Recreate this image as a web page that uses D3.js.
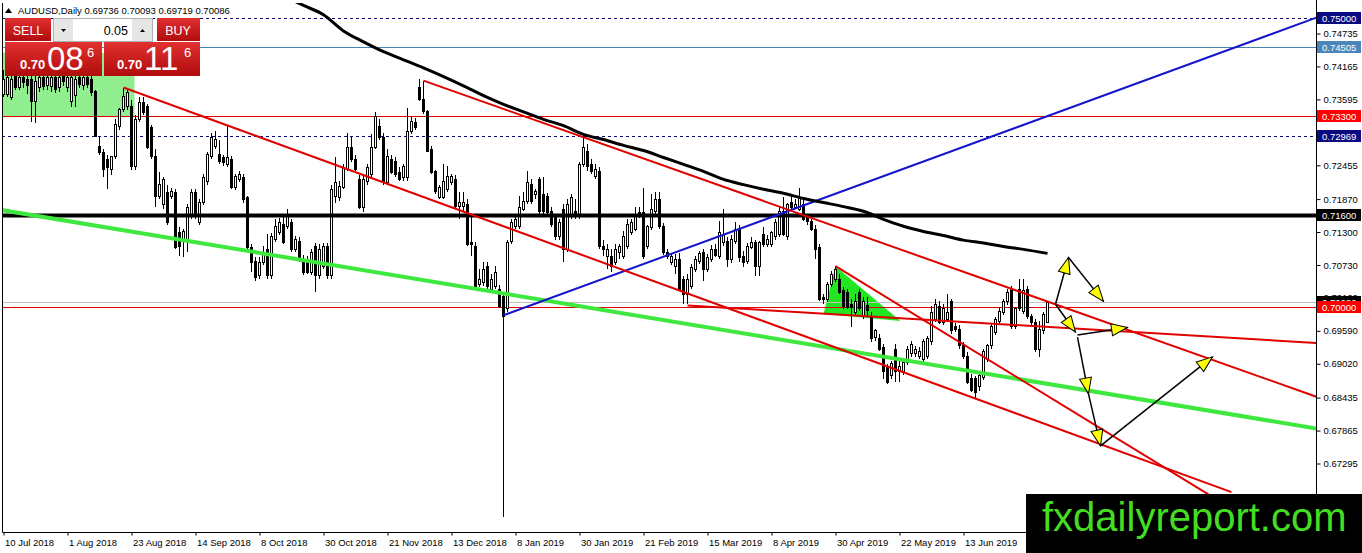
<!DOCTYPE html>
<html>
<head>
<meta charset="utf-8">
<script src="https://cdn.jsdelivr.net/npm/d3@7"></script>
<style>
  body { margin: 0; background: #fff; }
  svg { display: block; font-family: "Liberation Sans", Arial, sans-serif; }
</style>
</head>
<body>
<div id="chart"></div>
<script>
// AUDUSD daily, candle values (bar 0 = 10 Jul 2018)
var opens = [
  .7368,.7368,.7363,.7401,.7380,.7397,.7394,.7394,.7356,.7380,
  .7397,.7383,.7382,.7397,.7380,.7401,.7380,.7356,.7366,.7397,
  .7383,.7397,.7394,.7373,.7278,.7268,.7256,.7238,.7261,.7313,
  .7342,.7347,.7347,.7244,.7325,.7354,.7347,.7311,.7261,.7192,
  .7178,.7199,.7192,.7199,.7130,.7117,.7117,.7157,.7199,.7147,
  .7181,.7218,.7261,.7278,.7264,.7259,.7247,.7256,.7207,.7221,
  .7225,.7190,.7104,.7079,.7054,.7078,.7100,.7054,.7117,.7130,
  .7143,.7140,.7147,.7100,.7114,.7083,.7083,.7060,.7105,.7054,
  .7071,.7105,.7054,.7192,.7190,.7207,.7238,.7276,.7256,.7221,
  .7173,.7218,.7230,.7276,.7313,.7294,.7216,.7256,.7252,.7233,
  .7225,.7225,.7304,.7319,.7380,.7359,.7338,.7273,.7235,.7190,
  .7190,.7204,.7216,.7221,.7174,.7174,.7178,.7112,.7105,.7040,
  .7043,.7071,.7031,.7036,.7031,.7019,.6997,.7114,.7140,.7140,
  .7169,.7183,.7212,.7195,.7221,.7195,.7192,.7166,.7157,.7123,
  .7169,.7100,.7157,.7166,.7157,.7247,.7269,.7247,.7226,.7235,
  .7105,.7088,.7088,.7078,.7095,.7088,.7105,.7130,.7135,.7164,
  .7164,.7105,.7138,.7166,.7187,.7140,.7095,.7078,.7071,.7083,
  .7048,.7022,.7036,.7066,.7079,.7095,.7066,.7083,.7100,.7088,
  .7112,.7114,.7083,.7114,.7135,.7088,.7079,.7104,.7112,.7071,
  .7126,.7109,.7109,.7123,.7126,.7166,.7123,.7181,.7173,.7169,
  .7178,.7155,.7149,.7135,.7104,.7017,.7014,.7040,.7048,.7048,
  .7028,.7026,.7005,.6991,.7026,.6984,.7003,.6984,.6948,.6945,
  .6931,.6896,.6881,.6927,.6888,.6888,.6905,.6919,.6919,.6915,
  .6910,.6915,.6940,.6979,.7002,.6974,.6979,.7009,.6967,.6962,
  .6933,.6915,.6876,.6876,.6862,.6879,.6910,.6933,.6957,.6976,
  .6991,.7009,.7031,.6967,.7031,.6993,.7031,.6983,.6974,.6927,
  .6959,.69736
];
var highs = [
  .7411,.7408,.7404,.7411,.7408,.7411,.7408,.7404,.7401,.7408,
  .7411,.7408,.7411,.7408,.7404,.7411,.7408,.7404,.7401,.7408,
  .7404,.7408,.7404,.7376,.7294,.7273,.7263,.7256,.7325,.7345,
  .7380,.7376,.7359,.7333,.7363,.7363,.7352,.7316,.7273,.7233,
  .7225,.7212,.7207,.7204,.7138,.7135,.7178,.7204,.7204,.7187,
  .7230,.7269,.7302,.7304,.7290,.7264,.7313,.7261,.7231,.7235,
  .7230,.7193,.7109,.7086,.7086,.7105,.7126,.7128,.7152,.7155,
  .7157,.7169,.7152,.7123,.7121,.7090,.7088,.7100,.7111,.7109,
  .7111,.7111,.7211,.7259,.7218,.7247,.7302,.7295,.7264,.7228,
  .7228,.7247,.7299,.7337,.7325,.7302,.7273,.7264,.7259,.7242,
  .7247,.7345,.7330,.7328,.7394,.7392,.7342,.7278,.7238,.7211,
  .7247,.7244,.7230,.7228,.7199,.7200,.7187,.7157,.7112,.7066,
  .7079,.7078,.7057,.7071,.7038,.7024,.7117,.7152,.7159,.7192,
  .7199,.7235,.7221,.7204,.7225,.7225,.7197,.7173,.7162,.7152,
  .7178,.7187,.7195,.7187,.7252,.7299,.7282,.7256,.7247,.7242,
  .7117,.7109,.7100,.7109,.7109,.7131,.7152,.7152,.7174,.7174,
  .7207,.7143,.7195,.7199,.7199,.7145,.7100,.7092,.7092,.7093,
  .7054,.7057,.7074,.7088,.7097,.7100,.7092,.7107,.7109,.7149,
  .7169,.7121,.7124,.7147,.7142,.7097,.7111,.7121,.7117,.7114,
  .7138,.7124,.7131,.7152,.7173,.7190,.7181,.7195,.7187,.7207,
  .7187,.7161,.7155,.7142,.7109,.7022,.7043,.7062,.7071,.7057,
  .7035,.7031,.7014,.7022,.7031,.7017,.7017,.6991,.6962,.6953,
  .6936,.6902,.6907,.6936,.6907,.6910,.6933,.6941,.6933,.6931,
  .6945,.6950,.7002,.7014,.7010,.7005,.7022,.7014,.6972,.6969,
  .6940,.6922,.6884,.6881,.6884,.6927,.6936,.6971,.6983,.6998,
  .7014,.7031,.7036,.7000,.7048,.7048,.7036,.6988,.6979,.6976,
  .6991,.70093
];
var lows = [
  .7363,.7363,.7359,.7376,.7376,.7380,.7368,.7321,.7319,.7373,
  .7376,.7376,.7373,.7370,.7373,.7383,.7373,.7347,.7347,.7380,
  .7376,.7380,.7366,.7294,.7264,.7225,.7204,.7228,.7256,.7307,
  .7337,.7342,.7238,.7238,.7321,.7332,.7273,.7256,.7174,.7187,
  .7169,.7143,.7187,.7100,.7088,.7086,.7095,.7152,.7152,.7143,
  .7176,.7212,.7256,.7273,.7247,.7245,.7242,.7204,.7202,.7216,
  .7181,.7100,.7060,.7045,.7048,.7073,.7048,.7048,.7112,.7124,
  .7109,.7135,.7095,.7095,.7079,.7055,.7057,.7055,.7026,.7048,
  .7066,.7048,.7048,.7181,.7183,.7204,.7235,.7252,.7235,.7169,
  .7164,.7212,.7225,.7273,.7290,.7212,.7211,.7230,.7225,.7218,
  .7219,.7219,.7299,.7307,.7356,.7335,.7268,.7230,.7195,.7187,
  .7187,.7199,.7211,.7169,.7152,.7166,.7105,.7088,.7031,.7035,
  .7036,.7031,.7026,.7031,.6998,.6637,.6991,.7109,.7136,.7135,
  .7166,.7178,.7178,.7187,.7161,.7162,.7159,.7138,.7117,.7117,
  .7079,.7095,.7152,.7152,.7152,.7242,.7235,.7230,.7221,.7100,
  .7088,.7066,.7060,.7073,.7083,.7083,.7100,.7124,.7131,.7155,
  .7083,.7100,.7133,.7161,.7135,.7090,.7083,.7073,.7057,.7028,
  .7005,.7005,.7031,.7060,.7074,.7045,.7060,.7078,.7086,.7083,
  .7105,.7069,.7076,.7109,.7079,.7069,.7074,.7100,.7054,.7054,
  .7104,.7104,.7104,.7117,.7121,.7123,.7117,.7169,.7169,.7166,
  .7149,.7143,.7131,.7083,.7010,.7005,.7009,.7035,.7043,.7022,
  .6997,.6997,.6965,.6986,.6993,.6979,.6983,.6940,.6941,.6924,
  .6876,.6867,.6876,.6870,.6870,.6883,.6900,.6914,.6914,.6910,
  .6905,.6910,.6934,.6974,.6971,.6969,.6974,.6953,.6957,.6927,
  .6910,.6867,.6853,.6841,.6855,.6874,.6905,.6927,.6952,.6971,
  .6986,.7003,.6962,.6962,.6993,.6988,.6979,.6965,.6922,.6914,
  .6953,.69719
];
var closes = [
  .7394,.7397,.7394,.7380,.7397,.7389,.7383,.7356,.7390,.7397,
  .7382,.7397,.7397,.7376,.7397,.7390,.7397,.7397,.7394,.7385,
  .7397,.7385,.7371,.7295,.7268,.7238,.7242,.7261,.7316,.7342,
  .7364,.7371,.7244,.7325,.7354,.7337,.7276,.7261,.7192,.7212,
  .7221,.7147,.7200,.7104,.7105,.7131,.7173,.7199,.7157,.7181,
  .7225,.7264,.7294,.7290,.7252,.7250,.7259,.7207,.7226,.7230,
  .7187,.7104,.7078,.7052,.7078,.7095,.7054,.7123,.7140,.7147,
  .7112,.7157,.7100,.7117,.7083,.7060,.7060,.7095,.7054,.7100,
  .7105,.7054,.7204,.7216,.7209,.7242,.7276,.7256,.7238,.7173,
  .7221,.7242,.7276,.7330,.7294,.7216,.7261,.7233,.7230,.7221,
  .7244,.7304,.7321,.7311,.7359,.7338,.7269,.7233,.7200,.7207,
  .7218,.7226,.7226,.7174,.7181,.7181,.7109,.7109,.7036,.7048,
  .7066,.7036,.7048,.7060,.7002,.6984,.7112,.7147,.7152,.7173,
  .7183,.7216,.7183,.7200,.7166,.7166,.7164,.7143,.7123,.7147,
  .7100,.7178,.7190,.7157,.7247,.7276,.7244,.7235,.7238,.7105,
  .7100,.7100,.7071,.7100,.7105,.7123,.7143,.7147,.7161,.7157,
  .7088,.7140,.7169,.7187,.7140,.7095,.7088,.7088,.7083,.7031,
  .7022,.7048,.7069,.7083,.7092,.7066,.7086,.7100,.7090,.7130,
  .7126,.7083,.7117,.7135,.7086,.7078,.7105,.7112,.7071,.7112,
  .7109,.7117,.7130,.7147,.7166,.7126,.7178,.7173,.7178,.7190,
  .7152,.7149,.7135,.7100,.7014,.7014,.7040,.7057,.7066,.7026,
  .7002,.7000,.7000,.7010,.6997,.7009,.6995,.6945,.6959,.6927,
  .6888,.6870,.6902,.6888,.6898,.6905,.6927,.6936,.6927,.6924,
  .6940,.6945,.6991,.7005,.6974,.6997,.6991,.6959,.6962,.6933,
  .6915,.6870,.6855,.6853,.6881,.6924,.6933,.6967,.6979,.6993,
  .7010,.7026,.6967,.6997,.6997,.7028,.6984,.6974,.6927,.6962,
  .6988,.70086
];

// moving average, read at a few bars
var maBars = [72,75,80,85,90,95,100,105,110,115,120,125,130,135,140,145,150,155,160,165,
              170,175,180,185,190,195,200,205,210,215,220,225,230,235,240,245,250,255,261];
var maValues = [.7532,.7522,.7506,.7478,.7459,.7442,.7428,.7414,.7399,.7383,.7366,.7351,.7338,.7325,
                .7314,.7299,.7290,.7280,.7271,.7259,.7247,.7235,.7221,.7212,.7204,.7197,.7188,.7181,
                .7174,.7166,.7152,.7140,.7131,.7124,.7116,.7111,.7105,.7100,.7093];

// axis ticks (0.73025 sits under the 0.72969 tag, so its label is not shown)
var priceTicks = [0.74735,0.74165,0.73595,0.73025,0.72455,0.71870,0.71300,0.70730,0.70160,
                  0.69590,0.69020,0.68435,0.67865,0.67295,0.66725];
var hiddenTickLabels = [0.73025];
var dateBars = [0,16,32,48,64,80,96,112,128,144,160,176,192,208,224,240];
var dateLabels = ["10 Jul 2018","1 Aug 2018","23 Aug 2018","14 Sep 2018","8 Oct 2018","30 Oct 2018",
                  "21 Nov 2018","13 Dec 2018","8 Jan 2019","30 Jan 2019","21 Feb 2019","15 Mar 2019",
                  "8 Apr 2019","30 Apr 2019","22 May 2019","13 Jun 2019"];

// drawn objects: [bar, price]
var greenBox = [[-1, 0.7440], [32.75, 0.7330]];
var greenTriangle = [[208, 0.7071], [205, 0.6988], [224.25, 0.6976]];
var greenTrend = [[-0.5, 0.7168], [328.25, 0.6790]];
var blueTrend = [[125, 0.6986], [328.25, 0.7501]];
var redTrends = [
  [[30, 0.7380], [307, 0.6680]],
  [[105, 0.7392], [328.25, 0.6845]],
  [[171, 0.7003], [328.25, 0.6938]],
  [[208, 0.7071], [305, 0.6660]]
];
var arrowPaths = [
  [[263, 0.7005], [266.25, 0.7086], [275, 0.7010]],
  [[263, 0.7005], [268, 0.6957]],
  [[268.5, 0.6952], [281, 0.6965]],
  [[268.5, 0.6948], [271.25, 0.6850], [274.25, 0.6760], [302.25, 0.6914]]
];
var levelDashed = [0.75000, 0.72969];
var levelBlue = 0.74505;
var levelRed = [0.73300, 0.70000];
var levelBlack = 0.71600;
var bidPrice = 0.70086;

var width = 1362, height = 553;
var plotLeft = 2, plotRight = 1316, plotTop = 3, plotBottom = 532;

var svg = d3.select("#chart").append("svg")
    .attr("width", width)
    .attr("height", height);

var x = d3.scaleLinear().domain([0, 261]).range([3.5, 1047.5]);
var y = d3.scaleLinear().domain([0.74735, 0.67295]).range([33.5, 463.5]);

var defs = svg.append("defs");
defs.append("clipPath").attr("id", "clip").append("rect")
    .attr("x", plotLeft).attr("y", plotTop)
    .attr("width", plotRight - plotLeft).attr("height", plotBottom - plotTop);

var plot = svg.append("g").attr("clip-path", "url(#clip)");

// background objects
plot.append("rect")
    .attr("x", x(greenBox[0][0])).attr("y", y(greenBox[0][1]))
    .attr("width", x(greenBox[1][0]) - x(greenBox[0][0]))
    .attr("height", y(greenBox[1][1]) - y(greenBox[0][1]))
    .attr("fill", "#90ee90");

plot.append("path")
    .attr("d", "M" + greenTriangle.map(function(p) { return x(p[0]) + "," + y(p[1]); }).join("L") + "Z")
    .attr("fill", "#22e622");

// horizontal levels
function hline(price, color, w, dash) {
  plot.append("line")
    .attr("x1", plotLeft).attr("x2", plotRight)
    .attr("y1", Math.round(y(price)) + 0.5).attr("y2", Math.round(y(price)) + 0.5)
    .attr("stroke", color).attr("stroke-width", w)
    .attr("stroke-dasharray", dash || null);
}
levelDashed.forEach(function(p) { hline(p, "#0a0a80", 1, "3,3"); });
hline(levelBlue, "#4682b4", 1);
hline(bidPrice, "#c0c0c0", 1);
levelRed.forEach(function(p) { hline(p, "#e00000", 1); });

// candles
var bars = d3.range(opens.length);
var candles = plot.append("g").attr("shape-rendering", "crispEdges");
candles.selectAll("line").data(bars).join("line")
    .attr("x1", function(k) { return x(k); })
    .attr("x2", function(k) { return x(k); })
    .attr("y1", function(k) { return y(highs[k]); })
    .attr("y2", function(k) { return y(lows[k]); })
    .attr("stroke", "#000");
candles.selectAll("rect").data(bars).join("rect")
    .attr("x", function(k) { return x(k) - 1; })
    .attr("width", 2)
    .attr("y", function(k) { return y(Math.max(opens[k], closes[k])); })
    .attr("height", function(k) { return Math.max(1, Math.abs(y(opens[k]) - y(closes[k]))); })
    .attr("fill", function(k) { return closes[k] >= opens[k] ? "#fff" : "#000"; })
    .attr("stroke", "#000");

hline(levelBlack, "#000", 4);

// trend lines
var seg = d3.line().x(function(p) { return x(p[0]); }).y(function(p) { return y(p[1]); });
plot.append("path").attr("d", seg(greenTrend)).attr("stroke", "#3ee83e").attr("stroke-width", 4).attr("fill", "none");
plot.append("path").attr("d", seg(blueTrend)).attr("stroke", "#1515cc").attr("stroke-width", 2).attr("fill", "none");
redTrends.forEach(function(t) {
  plot.append("path").attr("d", seg(t)).attr("stroke", "#e00000").attr("stroke-width", 2).attr("fill", "none");
});

// moving average
var maLine = d3.line()
    .x(function(d, i) { return x(maBars[i]); })
    .y(function(d) { return y(d); })
    .curve(d3.curveMonotoneX);
plot.append("path").attr("d", maLine(maValues))
    .attr("stroke", "#000").attr("stroke-width", 3).attr("fill", "none");

// arrows
arrowPaths.forEach(function(path) {
  for (var i = 1; i < path.length; i++) {
    var x0 = x(path[i - 1][0]), y0 = y(path[i - 1][1]);
    var x1 = x(path[i][0]), y1 = y(path[i][1]);
    plot.append("line").attr("x1", x0).attr("y1", y0).attr("x2", x1).attr("y2", y1)
        .attr("stroke", "#000").attr("stroke-width", 1.5);
    var a = Math.atan2(y1 - y0, x1 - x0) * 180 / Math.PI;
    plot.append("path")
        .attr("d", "M0,0 L-16,-6 L-16,6 Z")
        .attr("transform", "translate(" + x1 + "," + y1 + ") rotate(" + a + ")")
        .attr("fill", "#ffff00").attr("stroke", "#000").attr("stroke-width", 1);
  }
});

// frame
svg.append("path")
    .attr("d", "M" + (plotLeft + 0.5) + "," + plotTop + " V" + (plotBottom + 0.5) + " H" + (plotRight + 0.5) + " V0")
    .attr("stroke", "#000").attr("fill", "none");

// price axis
var fmt = d3.format(".5f");
var yAxis = d3.axisRight(y).tickValues(priceTicks).tickSize(4)
    .tickFormat(function(d) { return hiddenTickLabels.indexOf(d) >= 0 ? "" : fmt(d); });
var gy = svg.append("g").attr("transform", "translate(" + (plotRight + 0.5) + ",0)").call(yAxis);
gy.select(".domain").remove();
gy.selectAll("text").attr("font-size", "9.5px").attr("font-family", "Liberation Sans, Arial, sans-serif").attr("fill", "#000");

// time axis
var xAxis = d3.axisBottom(x).tickValues(dateBars).tickSize(3)
    .tickFormat(function(d, i) { return dateLabels[i]; });
var gx = svg.append("g").attr("transform", "translate(0," + (plotBottom + 0.5) + ")").call(xAxis);
gx.select(".domain").remove();
gx.selectAll("text").attr("text-anchor", "start").attr("x", 1).attr("y", 7)
    .attr("font-size", "9.5px").attr("font-family", "Liberation Sans, Arial, sans-serif").attr("fill", "#000");

// price labels on the axis
function priceTag(price, color) {
  var yy = Math.round(y(price));
  svg.append("rect").attr("x", plotRight + 1).attr("y", yy - 6).attr("width", 44).attr("height", 12).attr("fill", color);
  svg.append("text").attr("x", plotRight + 6).attr("y", yy + 3.5).attr("font-size", "9.5px")
      .attr("fill", "#fff").text(fmt(price));
}
priceTag(levelDashed[0], "#0a0a80");
priceTag(levelBlue, "#4a86b8");
priceTag(levelRed[0], "#ff0000");
priceTag(levelDashed[1], "#0a0a80");
priceTag(levelBlack, "#000");
priceTag(bidPrice, "#000");
priceTag(levelRed[1], "#ff0000");

// header
var last = opens.length - 1;
svg.append("path").attr("d", "M5,13 L8.5,8 L12,13 Z").attr("fill", "#000");
svg.append("text").attr("x", 18).attr("y", 14).attr("font-size", "9.5px").attr("fill", "#000")
    .text("AUDUSD,Daily  " + [opens[last], highs[last], lows[last], closes[last]].map(fmt).join(" "));

// one click trading panel
var grad = defs.append("linearGradient").attr("id", "redgrad").attr("x1", 0).attr("y1", 0).attr("x2", 0).attr("y2", 1);
grad.append("stop").attr("offset", "0%").attr("stop-color", "#e23030");
grad.append("stop").attr("offset", "100%").attr("stop-color", "#b00c0c");

var panel = svg.append("g");
panel.append("rect").attr("x", 5).attr("y", 18).attr("width", 46).attr("height", 23).attr("fill", "url(#redgrad)");
panel.append("rect").attr("x", 157).attr("y", 18).attr("width", 43).attr("height", 23).attr("fill", "url(#redgrad)");
panel.append("rect").attr("x", 5).attr("y", 42).attr("width", 97).attr("height", 34).attr("fill", "url(#redgrad)");
panel.append("rect").attr("x", 104).attr("y", 42).attr("width", 96).attr("height", 34).attr("fill", "url(#redgrad)");
panel.append("rect").attr("x", 53.5).attr("y", 18.5).attr("width", 99).attr("height", 23).attr("fill", "#fff").attr("stroke", "#b0b0b0");
panel.append("rect").attr("x", 54).attr("y", 19).attr("width", 19).attr("height", 22).attr("fill", "#e6e6e6");
panel.append("rect").attr("x", 132).attr("y", 19).attr("width", 20).attr("height", 22).attr("fill", "#e6e6e6");
panel.append("path").attr("d", "M61,29 L66,29 L63.5,32 Z").attr("fill", "#000");
panel.append("path").attr("d", "M140,32 L145,32 L142.5,29 Z").attr("fill", "#000");
panel.append("text").attr("x", 128).attr("y", 35).attr("text-anchor", "end").attr("font-size", "12.5px").attr("fill", "#000").text("0.05");
panel.append("text").attr("x", 28).attr("y", 35).attr("text-anchor", "middle").attr("font-size", "12.5px").attr("fill", "#fff").text("SELL");
panel.append("text").attr("x", 178).attr("y", 35).attr("text-anchor", "middle").attr("font-size", "12.5px").attr("fill", "#fff").text("BUY");

function quote(x0, small, big, pip) {
  panel.append("text").attr("x", x0).attr("y", 69).attr("font-size", "13px").attr("font-weight", "bold").attr("fill", "#fff").text(small);
  panel.append("text").attr("x", x0 + 27).attr("y", 70).attr("font-size", "33px").attr("fill", "#fff").text(big);
  panel.append("text").attr("x", x0 + 67).attr("y", 57).attr("font-size", "13px").attr("fill", "#fff").text(pip);
}
quote(20, "0.70", "08", "6");
quote(117, "0.70", "11", "6");

// watermark
svg.append("rect").attr("x", 1026).attr("y", 494).attr("width", 336).attr("height", 59).attr("fill", "#000");
svg.append("text").attr("x", 1042).attr("y", 531).attr("font-size", "40px").attr("fill", "#44dd22").text("fxdailyreport.com");
</script>
</body>
</html>
